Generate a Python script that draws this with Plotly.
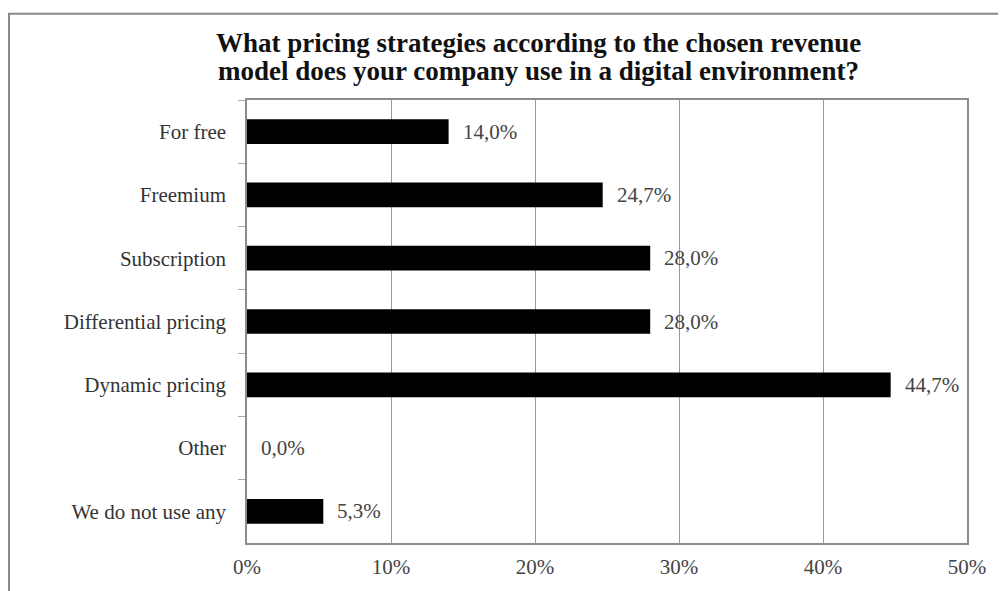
import plotly.graph_objects as go

categories = ["For free", "Freemium", "Subscription", "Differential pricing",
              "Dynamic pricing", "Other", "We do not use any"]
values = [14.0, 24.7, 28.0, 28.0, 44.7, 0.0, 5.3]
x_ticks = [0, 10, 20, 30, 40, 50]
x_tick_labels = ["0%", "10%", "20%", "30%", "40%", "50%"]
title_lines = ["What pricing strategies according to the chosen revenue",
               "model does your company use in a digital environment?"]

labels = [f"{v:.1f}%".replace(".", ",") for v in values]

OFF = 8  # page body margin
W, H = 1006 - OFF, 591 - OFF
L, T = 247 - OFF, 100 - OFF
pw, ph = 720, 452
R, B = W - L - pw, H - T - ph

SERIF = "Liberation Serif"

fig = go.Figure()
fig.add_trace(go.Bar(
    y=categories, x=values, orientation="h",
    marker=dict(color="#000000", line=dict(width=0)),
    width=0.39, hoverinfo="skip",
))

annotations = []
for c, v, t in zip(categories, values, labels):
    annotations.append(dict(
        x=v, y=c, xref="x", yref="y", text=t, showarrow=False,
        xanchor="left", yanchor="middle", xshift=12,
        font=dict(family=SERIF, size=21, color="#444444"),
    ))

# title lines as paper annotations (pixel positions converted to paper coords)
for line, ypx in zip(title_lines, [42, 70]):
    annotations.append(dict(
        x=(538 - OFF - L) / pw, y=((H - B) - (ypx - OFF)) / ph,
        xref="paper", yref="paper", text="<b>" + line + "</b>", showarrow=False,
        xanchor="center", yanchor="middle",
        font=dict(family=SERIF, size=27, color="#111111"),
    ))

fig.update_layout(
    width=W, height=H,
    margin=dict(l=L, r=R, t=T, b=B),
    paper_bgcolor="white", plot_bgcolor="white",
    showlegend=False,
    annotations=annotations,
)

fig.update_xaxes(
    range=[0, 50], tickvals=x_ticks, ticktext=x_tick_labels,
    showgrid=True, gridcolor="#9a9a9a", gridwidth=1,
    showline=True, linecolor="#8c8c8c", linewidth=1.5, mirror=True,
    ticks="", zeroline=False,
    tickfont=dict(family=SERIF, size=21, color="#444444"),
    ticklabelstandoff=4,
)
fig.update_yaxes(
    categoryorder="array", categoryarray=categories, autorange="reversed",
    showgrid=False, showline=True, linecolor="#8c8c8c", linewidth=1.5, mirror=True,
    ticks="outside", tickson="boundaries", ticklen=7, tickcolor="#aaaaaa",
    tickfont=dict(family=SERIF, size=21, color="#333333"),
    ticklabelstandoff=15,
)

# outer chart border (extends beyond the visible image on the right and bottom)
fig.add_shape(type="rect", xref="paper", yref="paper",
              x0=(1 - L) / pw, x1=(W + 40 - L) / pw,
              y0=-(H + 60 - (H - B)) / ph, y1=((H - B) - 4) / ph,
              line=dict(color="#888888", width=2), layer="below")

fig.write_html("out.html")
